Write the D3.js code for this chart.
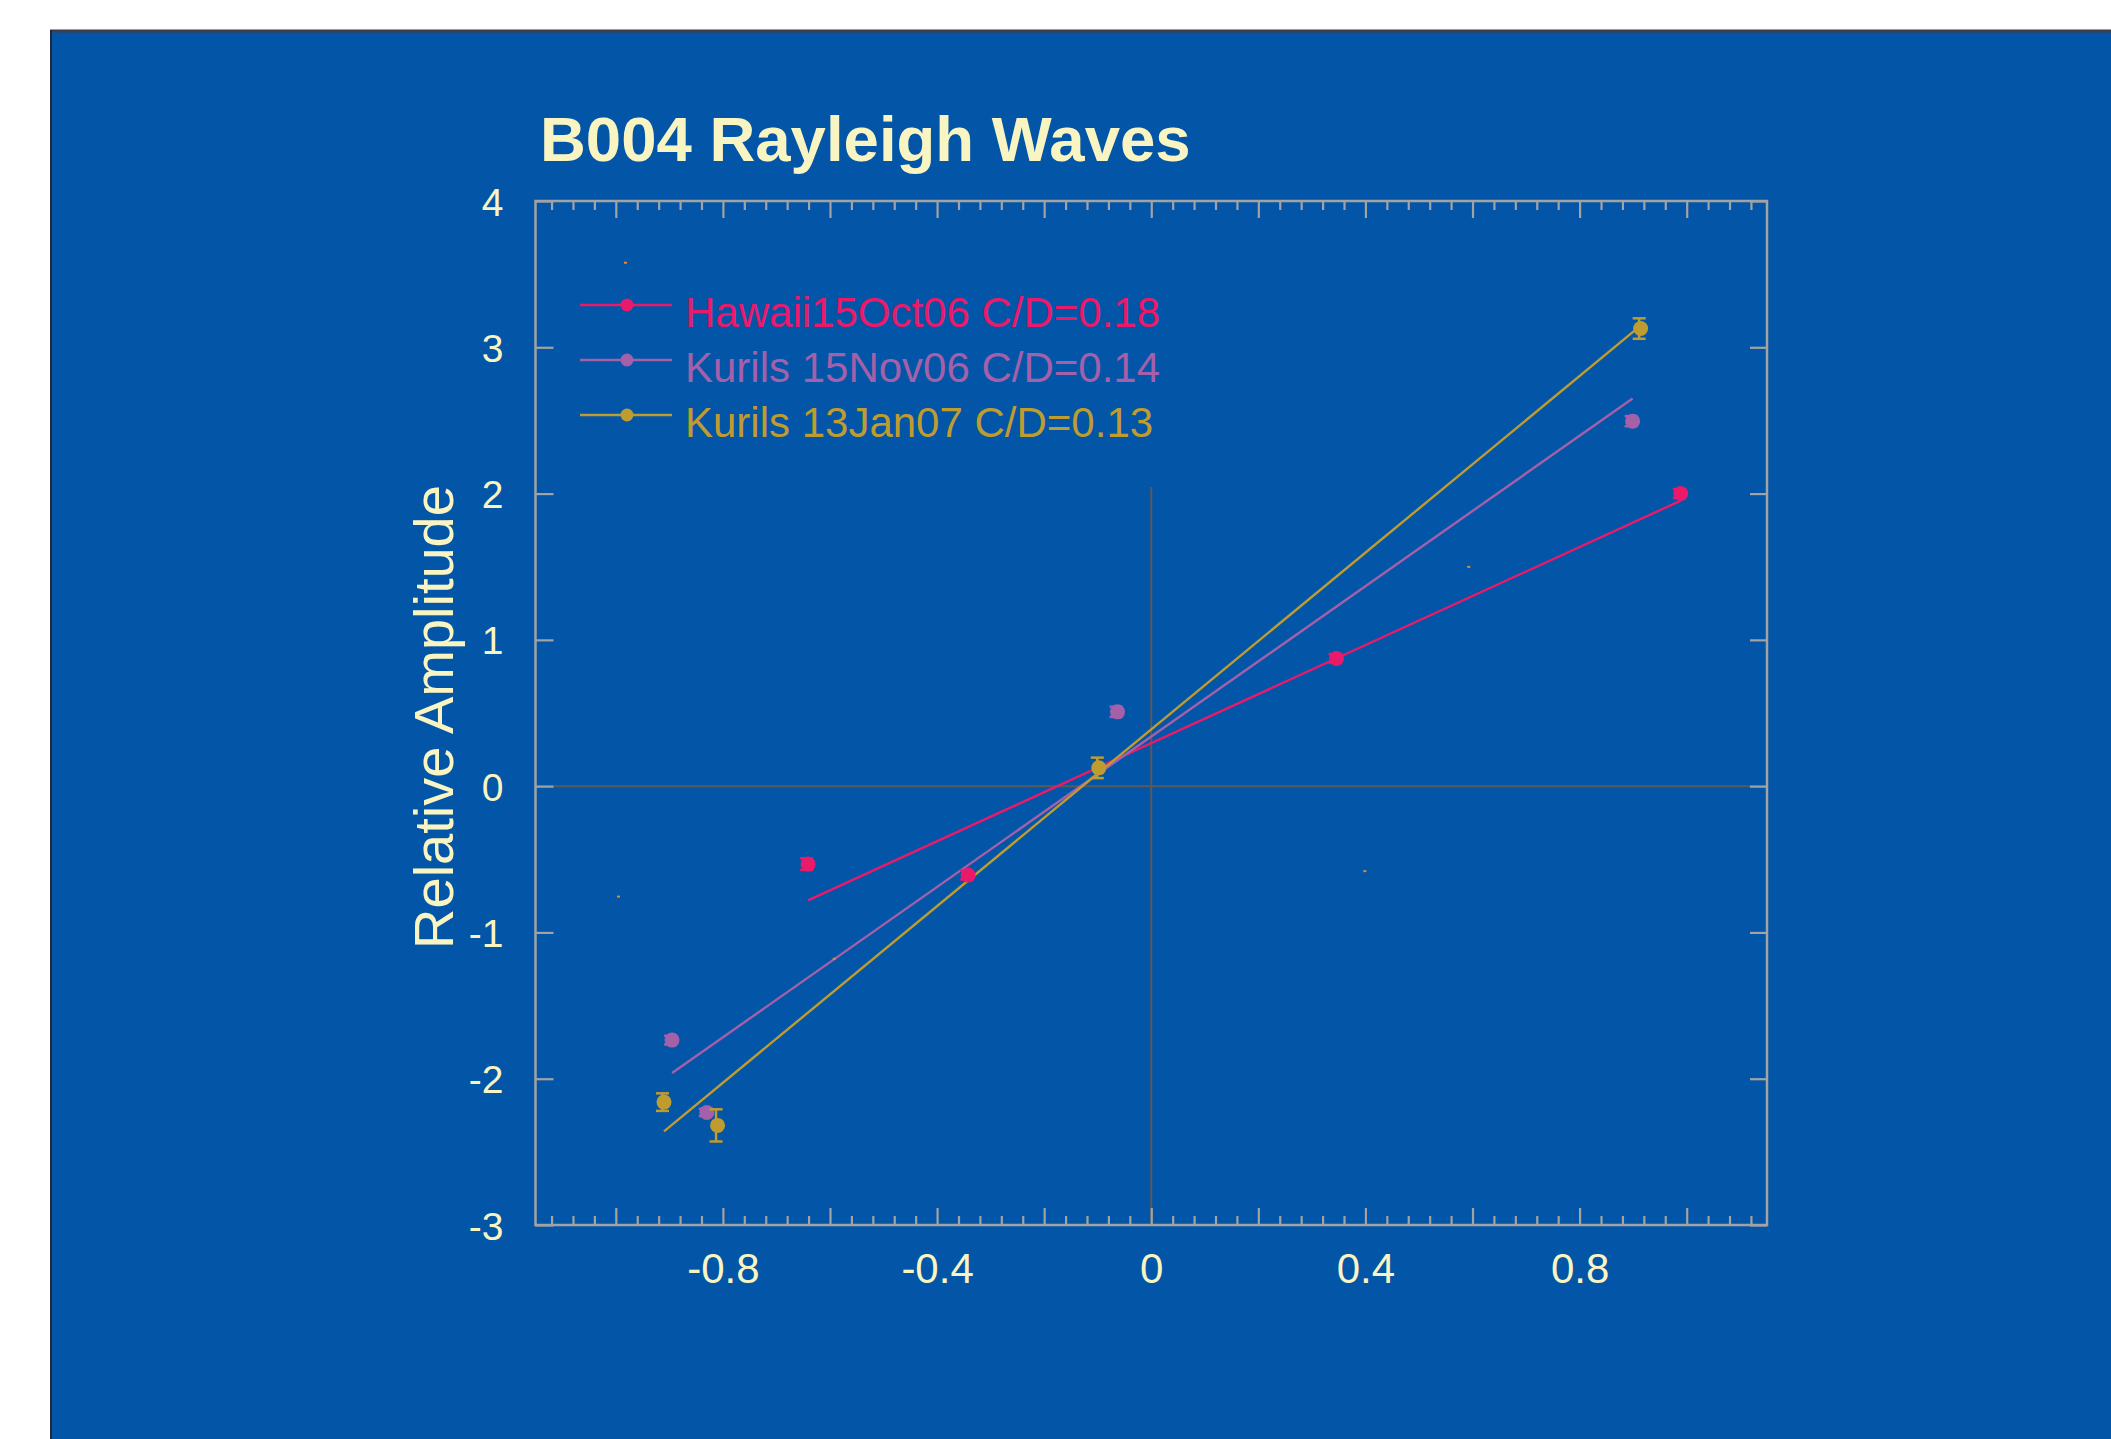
<!DOCTYPE html>
<html lang="en">
<head>
  <meta charset="UTF-8">
  <title>B004 Rayleigh Waves</title>
  <style>
    body { margin: 0; background: #fff; }
    text { font-family: "Liberation Sans", Arial, sans-serif; }
    .axis path { display: none; }
    .axis line { stroke: #a3a3a3; stroke-width: 2.2; }
  </style>
  <script src="https://d3js.org/d3.v7.min.js"></script>
</head>
<body>
  <div id="chart"></div>
  <script>
    // series
    var seriesNames = ['Hawaii15Oct06 C/D=0.18', 'Kurils 15Nov06 C/D=0.14', 'Kurils 13Jan07 C/D=0.13'];
    var seriesColors = ['#ea1a6a', '#a460a8', '#bf9c30'];

    var hawaiiX = [-0.641, -0.342, 0.346, 0.989];
    var hawaiiY = [-0.533, -0.608, 0.873, 2.0];
    var hawaiiErr = [0.04, 0.03, 0.03, 0.03];

    var kurilsNovX = [-0.895, -0.830, -0.063, 0.899];
    var kurilsNovY = [-1.736, -2.231, 0.508, 2.495];
    var kurilsNovErr = [0.03, 0.025, 0.035, 0.035];

    var kurilsJanX = [-0.910, -0.810, -0.098, 0.914];
    var kurilsJanY = [-2.16, -2.319, 0.125, 3.128];
    var kurilsJanErr = [0.06, 0.11, 0.07, 0.07];

    // fitted lines (slope, intercept), drawn over each series' x range
    var fitSlope = [1.676, 2.570, 3.020];
    var fitIntercept = [0.294, 0.339, 0.388];

    // tiny stray marks visible in the plot
    var strayX = [-0.982, -0.995, 0.593, 0.399, -0.592];
    var strayY = [3.578, -0.755, 1.499, -0.581, -1.18];

    var xLabelTicks = [-0.8, -0.4, 0, 0.4, 0.8];
    var yTicks = [-3, -2, -1, 0, 1, 2, 3, 4];

    var W = 2111, H = 1439;
    var bg = '#0355a7', ink = '#f9f5c2';
    var margin = {left: 535.5, top: 201, right: 2111 - 1767, bottom: 1439 - 1225};
    var width = W - margin.left - margin.right;
    var height = H - margin.top - margin.bottom;

    var series = [
      {xs: hawaiiX, ys: hawaiiY, err: hawaiiErr},
      {xs: kurilsNovX, ys: kurilsNovY, err: kurilsNovErr},
      {xs: kurilsJanX, ys: kurilsJanY, err: kurilsJanErr}
    ].map(function(s, i) {
      s.name = seriesNames[i];
      s.color = seriesColors[i];
      s.slope = fitSlope[i];
      s.intercept = fitIntercept[i];
      s.points = s.xs.map(function(x, j) { return {x: x, y: s.ys[j], e: s.err[j], c: s.color}; });
      return s;
    });

    var x = d3.scaleLinear().domain([-1.15, 1.15]).range([0, width]);
    var y = d3.scaleLinear().domain([-3, 4]).range([height, 0]);

    var svg = d3.select('#chart').append('svg')
      .attr('width', W).attr('height', H);

    // panel
    svg.append('rect').attr('x', 51).attr('y', 30).attr('width', W - 51).attr('height', H - 30).attr('fill', bg);
    svg.append('line').attr('x1', 50).attr('x2', W).attr('y1', 31).attr('y2', 31)
      .attr('stroke', '#3c3f46').attr('stroke-width', 3);
    svg.append('line').attr('x1', 51).attr('x2', 51).attr('y1', 30).attr('y2', H)
      .attr('stroke', '#1c2a40').attr('stroke-width', 2);

    svg.append('text')
      .attr('x', 540).attr('y', 161)
      .attr('fill', ink).attr('font-size', 63.5).attr('font-weight', 'bold')
      .text('B004 Rayleigh Waves');

    var g = svg.append('g').attr('transform', 'translate(' + margin.left + ',' + margin.top + ')');

    // zero lines
    g.append('line').attr('x1', 0).attr('x2', width).attr('y1', y(0)).attr('y2', y(0))
      .attr('stroke', '#5a5a5a').attr('stroke-width', 2);
    g.append('line').attr('x1', x(0)).attr('x2', x(0)).attr('y1', height).attr('y2', 0)
      .attr('stroke', '#5a5a5a').attr('stroke-width', 2);

    // legend backing (hides the upper part of the vertical zero line)
    var legX = 580 - margin.left, legY = 305 - margin.top, legStep = 55;
    g.append('rect').attr('x', legX - 20).attr('y', 2).attr('width', 640).attr('height', 487 - margin.top - 2)
      .attr('fill', bg);

    // ticks
    var majorX = d3.range(-1, 1.0001, 0.2).map(function(v) { return +v.toFixed(2); });
    var minorX = d3.range(-1.12, 1.1201, 0.04).map(function(v) { return +v.toFixed(2); })
      .filter(function(v) { return majorX.indexOf(v) < 0; });

    function fmt(v) {
      var hit = xLabelTicks.some(function(t) { return Math.abs(t - v) < 1e-6; });
      return hit ? String(v) : '';
    }

    g.append('g').attr('class', 'axis').attr('transform', 'translate(0,' + height + ')')
      .call(d3.axisBottom(x).tickValues(majorX).tickSize(-17).tickFormat(fmt))
      .selectAll('text').attr('y', 58).attr('dy', 0)
      .attr('fill', ink).attr('font-size', 42).attr('font-family', '"Liberation Sans", Arial, sans-serif');
    g.append('g').attr('class', 'axis').attr('transform', 'translate(0,' + height + ')')
      .call(d3.axisBottom(x).tickValues(minorX).tickSize(-9).tickFormat(''));
    g.append('g').attr('class', 'axis')
      .call(d3.axisTop(x).tickValues(majorX).tickSize(-17).tickFormat(''));
    g.append('g').attr('class', 'axis')
      .call(d3.axisTop(x).tickValues(minorX).tickSize(-9).tickFormat(''));

    g.append('g').attr('class', 'axis')
      .call(d3.axisLeft(y).tickValues(yTicks).tickSize(-18).tickFormat(function(v) { return String(v); }))
      .selectAll('text').attr('x', -32).attr('dy', '0.36em')
      .attr('fill', ink).attr('font-size', 39).attr('font-family', '"Liberation Sans", Arial, sans-serif');
    g.append('g').attr('class', 'axis').attr('transform', 'translate(' + width + ',0)')
      .call(d3.axisRight(y).tickValues(yTicks).tickSize(-17).tickFormat(''));

    // frame
    g.append('rect').attr('width', width).attr('height', height)
      .attr('fill', 'none').attr('stroke', '#a3a3a3').attr('stroke-width', 2.5);

    // axis title
    svg.append('text')
      .attr('transform', 'translate(453,717) rotate(-90)')
      .attr('text-anchor', 'middle')
      .attr('fill', ink).attr('font-size', 56)
      .text('Relative Amplitude');

    // fitted lines
    g.selectAll('.fit').data(series).enter().append('line')
      .attr('class', 'fit')
      .attr('x1', function(s) { return x(d3.min(s.xs)); })
      .attr('y1', function(s) { return y(s.slope * d3.min(s.xs) + s.intercept); })
      .attr('x2', function(s) { return x(d3.max(s.xs)); })
      .attr('y2', function(s) { return y(s.slope * d3.max(s.xs) + s.intercept); })
      .attr('stroke', function(s) { return s.color; })
      .attr('stroke-width', 2.4);

    // error bars + points
    var sg = g.selectAll('.series').data(series).enter().append('g').attr('class', 'series');
    var eb = sg.selectAll('.err').data(function(s) { return s.points; })
      .enter().append('g').attr('class', 'err')
      .attr('stroke', function(p) { return p.c; }).attr('stroke-width', 2.5);
    eb.append('line')
      .attr('x1', function(p) { return x(p.x) - 1.5; }).attr('x2', function(p) { return x(p.x) - 1.5; })
      .attr('y1', function(p) { return y(p.y - p.e); }).attr('y2', function(p) { return y(p.y + p.e); });
    eb.append('line')
      .attr('x1', function(p) { return x(p.x) - 8; }).attr('x2', function(p) { return x(p.x) + 5; })
      .attr('y1', function(p) { return y(p.y + p.e); }).attr('y2', function(p) { return y(p.y + p.e); });
    eb.append('line')
      .attr('x1', function(p) { return x(p.x) - 8; }).attr('x2', function(p) { return x(p.x) + 5; })
      .attr('y1', function(p) { return y(p.y - p.e); }).attr('y2', function(p) { return y(p.y - p.e); });
    sg.selectAll('circle').data(function(s) { return s.points; })
      .enter().append('circle')
      .attr('cx', function(p) { return x(p.x); })
      .attr('cy', function(p) { return y(p.y); })
      .attr('r', 7.5)
      .attr('fill', function(p) { return p.c; });

    // stray marks
    g.selectAll('.stray').data(strayX).enter().append('rect')
      .attr('class', 'stray')
      .attr('x', function(d) { return x(d) - 1.5; })
      .attr('y', function(d, i) { return y(strayY[i]) - 1; })
      .attr('width', 3).attr('height', 2)
      .attr('fill', '#e88a2c');

    // legend
    var leg = g.selectAll('.leg').data(series).enter().append('g')
      .attr('class', 'leg')
      .attr('transform', function(s, i) { return 'translate(' + legX + ',' + (legY + i * legStep) + ')'; });
    leg.append('line').attr('x1', 0).attr('x2', 92).attr('y1', 0).attr('y2', 0)
      .attr('stroke', function(s) { return s.color; }).attr('stroke-width', 2.5);
    leg.append('circle').attr('cx', 47).attr('cy', 0).attr('r', 6.5)
      .attr('fill', function(s) { return s.color; });
    leg.append('text').attr('x', 105).attr('y', 22)
      .attr('fill', function(s) { return s.color; })
      .attr('font-size', 42)
      .text(function(s) { return s.name; });
  </script>
</body>
</html>
